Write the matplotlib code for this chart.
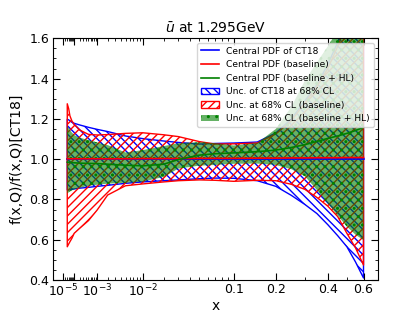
import numpy as np
import matplotlib
matplotlib.use("Agg")
import matplotlib.pyplot as plt
from matplotlib.patches import Patch
from matplotlib.lines import Line2D
from matplotlib.ticker import FixedLocator, FixedFormatter, NullFormatter, MultipleLocator

# ---------------- data ----------------
x = [3e-5, 4e-5, 5e-5, 7e-5, 1e-4, 2e-4, 5e-4, 1e-3, 2e-3, 5e-3, 1e-2, 2e-2, 3e-2,
     5e-2, 7e-2, 0.1, 0.15, 0.2, 0.25, 0.3, 0.35, 0.4, 0.45, 0.5, 0.55, 0.6]

ct18_central = [1.0] * len(x)
ct18_up = [1.198, 1.195, 1.190, 1.184, 1.178, 1.170, 1.158, 1.148, 1.137, 1.115, 1.102, 1.090, 1.083,
           1.075, 1.078, 1.080, 1.085, 1.130, 1.200, 1.290, 1.370, 1.470, 1.580, 1.700, 1.820, 1.950]
ct18_lo = [0.847, 0.848, 0.849, 0.850, 0.852, 0.856, 0.860, 0.865, 0.870, 0.880, 0.887, 0.893, 0.897,
           0.903, 0.906, 0.905, 0.893, 0.865, 0.820, 0.775, 0.730, 0.675, 0.620, 0.565, 0.490, 0.410]

base_central = [1.002, 1.002, 1.002, 1.002, 1.002, 1.002, 1.002, 1.002, 1.002, 1.002, 1.003, 1.003, 1.003,
                1.004, 1.004, 1.004, 1.005, 1.005, 1.006, 1.006, 1.007, 1.007, 1.007, 1.008, 1.008, 1.008]
base_up = [1.275, 1.250, 1.215, 1.190, 1.172, 1.145, 1.123, 1.120, 1.122, 1.128, 1.131, 1.121, 1.112,
           1.087, 1.075, 1.076, 1.080, 1.125, 1.190, 1.280, 1.360, 1.450, 1.560, 1.680, 1.800, 1.920]
base_lo = [0.565, 0.579, 0.590, 0.607, 0.632, 0.656, 0.695, 0.747, 0.822, 0.868, 0.877, 0.887, 0.893,
           0.897, 0.895, 0.890, 0.895, 0.893, 0.875, 0.850, 0.810, 0.767, 0.715, 0.632, 0.560, 0.474]

hl_central = [0.985, 0.984, 0.984, 0.983, 0.982, 0.980, 0.979, 0.978, 0.975, 0.970, 0.967, 0.975, 0.998,
              1.020, 1.027, 1.031, 1.037, 1.045, 1.058, 1.072, 1.088, 1.103, 1.115, 1.128, 1.142, 1.158]
hl_up = [1.165, 1.155, 1.145, 1.132, 1.120, 1.107, 1.095, 1.083, 1.070, 1.033, 1.045, 1.065, 1.079,
         1.084, 1.079, 1.068, 1.080, 1.150, 1.260, 1.390, 1.480, 1.560, 1.640, 1.720, 1.800, 1.880]
hl_lo = [0.830, 0.835, 0.840, 0.845, 0.850, 0.858, 0.867, 0.873, 0.878, 0.883, 0.888, 0.912, 0.953,
         0.968, 0.971, 0.977, 0.978, 0.971, 0.950, 0.915, 0.847, 0.780, 0.720, 0.665, 0.625, 0.598]

xticks = [1e-5, 1e-4, 1e-3, 1e-2, 0.1, 0.2, 0.4, 0.6]
xticklabels = [r"$10^{-5}$", "", r"$10^{-3}$", r"$10^{-2}$", "0.1", "0.2", "0.4", "0.6"]
xminor = [k * 10.0 ** d for d in (-5, -4, -3, -2) for k in range(2, 10)] + [0.3, 0.5]

labels = ["Central PDF of CT18", "Central PDF (baseline)", "Central PDF (baseline + HL)",
          "Unc. of CT18 at 68% CL", "Unc. at 68% CL (baseline)", "Unc. at 68% CL (baseline + HL)"]

# ---------------- figure ----------------
fig = plt.figure(figsize=(4.2, 3.15), dpi=100)
ax = fig.add_axes([0.1255, 0.1111, 0.7752, 0.7673])


def fwd(v):
    v = np.asarray(v, dtype=float)
    return np.sign(v) * np.abs(v) ** 0.3


def inv(v):
    v = np.asarray(v, dtype=float)
    return np.sign(v) * np.abs(v) ** (1.0 / 0.3)


ax.set_xscale("function", functions=(fwd, inv))

green_face = (0.0, 0.5, 0.0, 0.6)
blue_hatch = "\\\\\\\\"
red_hatch = "////"
green_hatch = ".."
ax.fill_between(x, ct18_lo, ct18_up, facecolor="none", edgecolor="blue", hatch=blue_hatch, linewidth=1.0)
ax.fill_between(x, base_lo, base_up, facecolor="none", edgecolor="red", hatch=red_hatch, linewidth=1.0)
ax.fill_between(x, hl_lo, hl_up, facecolor=green_face, edgecolor="green", hatch=green_hatch, linewidth=0)

ax.plot(x, ct18_central, color="blue", lw=1.2)
ax.plot(x, base_central, color="red", lw=1.2)
ax.plot(x, hl_central, color="green", lw=1.2)

ax.set_xlim(1e-8, 0.7)
ax.set_ylim(0.4, 1.6)

ax.xaxis.set_major_locator(FixedLocator(xticks))
ax.xaxis.set_major_formatter(FixedFormatter(xticklabels))
ax.xaxis.set_minor_locator(FixedLocator(xminor))
ax.xaxis.set_minor_formatter(NullFormatter())
ax.yaxis.set_major_locator(MultipleLocator(0.2))
ax.yaxis.set_minor_locator(MultipleLocator(0.05))
ax.yaxis.set_major_formatter(matplotlib.ticker.FormatStrFormatter("%.1f"))

ax.tick_params(which="both", direction="in", top=True, right=True, labelsize=9)
ax.tick_params(which="major", length=5)
ax.tick_params(which="minor", length=2.5)
ax.tick_params(axis="y", pad=2.5)
ax.tick_params(axis="x", pad=2.0)

ax.set_title(r"$\bar{u}$ at 1.295GeV", fontsize=10, pad=4)
ax.set_xlabel("x", fontsize=10, labelpad=0)
ax.set_ylabel("f(x,Q)/f(x,Q)[CT18]", fontsize=10, labelpad=4)

handles = [
    Line2D([], [], color="blue", lw=1.2),
    Line2D([], [], color="red", lw=1.2),
    Line2D([], [], color="green", lw=1.2),
    Patch(facecolor="none", edgecolor="blue", hatch=blue_hatch),
    Patch(facecolor="none", edgecolor="red", hatch=red_hatch),
    Patch(facecolor=green_face, edgecolor="green", hatch=green_hatch, linewidth=0),
]
ax.legend(handles, labels, loc="upper right", fontsize=6.6, framealpha=0.8)

fig.savefig("out.png", dpi=100)
